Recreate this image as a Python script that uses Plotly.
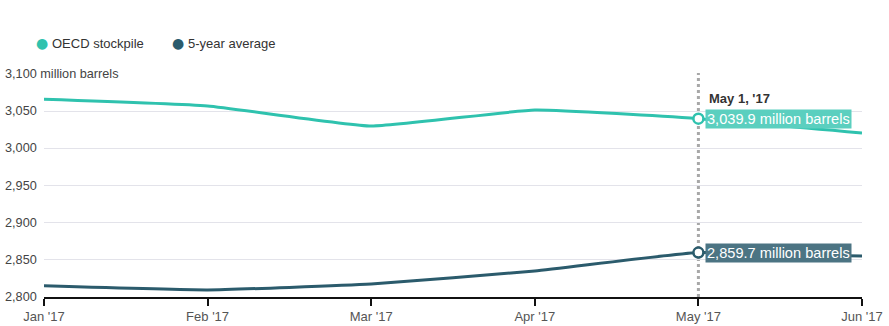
import plotly.graph_objects as go

# Monthly OECD commercial oil stocks vs. their five-year average (million barrels)
month_labels = ["Jan '17", "Feb '17", "Mar '17", "Apr '17", "May '17", "Jun '17"]
oecd_stockpile = [3066, 3057, 3030, 3051.5, 3039.9, 3020.5]
five_year_avg = [2815, 2809.5, 2817.5, 2835, 2859.7, 2855]

y_ticks = [2800, 2850, 2900, 2950, 3000, 3050, 3100]
y_tick_text = ["2,800", "2,850", "2,900", "2,950", "3,000", "3,050", "3,100 million barrels"]

series_names = ["OECD stockpile", "5-year average"]

highlight_idx = 4
highlight_title = "May 1, '17"

TEAL = "#2fc2ae"
TEAL_BOX = "#5bcfbf"
NAVY = "#2b5b6c"
NAVY_BOX = "#4c7483"
FONT = "Liberation Sans, Arial, sans-serif"

ML, MR, MT, MB = 44, 27, 74, 29

fig = go.Figure()

for name, vals, col in [(series_names[0], oecd_stockpile, TEAL),
                        (series_names[1], five_year_avg, NAVY)]:
    fig.add_trace(go.Scatter(
        x=month_labels, y=vals, mode="lines", name=name,
        line=dict(color=col, width=3, shape="spline", smoothing=0.4),
        showlegend=False, hoverinfo="skip"))
    # open marker on the highlighted month
    fig.add_trace(go.Scatter(
        x=[month_labels[highlight_idx]], y=[vals[highlight_idx]], mode="markers",
        marker=dict(size=10, color="white", line=dict(color=col, width=2.5)),
        showlegend=False, hoverinfo="skip"))

# dotted crosshair at the highlighted month
fig.add_shape(type="line", xref="x", yref="paper",
              x0=month_labels[highlight_idx], x1=month_labels[highlight_idx], y0=0, y1=1.005,
              line=dict(color="#a8a8a8", width=3, dash="dot"), layer="below")

# y tick labels, left-aligned at the chart edge
for v, t in zip(y_ticks, y_tick_text):
    fig.add_annotation(
        x=0, xref="paper", xshift=3 - ML, xanchor="left", y=v, yref="y", yanchor="middle",
        text=t, showarrow=False, bgcolor="white" if v == 3100 else None,
        font=dict(family=FONT, size=12.7, color="#444"))

# highlighted values
fig.add_annotation(
    x=month_labels[highlight_idx], y=oecd_stockpile[highlight_idx], xref="x", yref="y",
    xanchor="left", yanchor="bottom", xshift=9, yshift=11,
    text="<b>%s</b>" % highlight_title, showarrow=False,
    font=dict(family=FONT, size=13, color="#333"))
for vals, box in [(oecd_stockpile, TEAL_BOX), (five_year_avg, NAVY_BOX)]:
    fig.add_annotation(
        x=month_labels[highlight_idx], y=vals[highlight_idx], xref="x", yref="y",
        xanchor="left", yanchor="middle", xshift=7,
        text="{:,.1f} million barrels".format(vals[highlight_idx]), showarrow=False,
        bgcolor=box, borderpad=1,
        font=dict(family=FONT, size=14.6, color="white"))

# legend row above the plot
for px, label, col in [(40, series_names[0], TEAL), (176, series_names[1], NAVY)]:
    fig.add_annotation(x=0, xref="paper", xshift=px - ML - 6, y=1, yref="paper",
                       yshift=31, xanchor="left", yanchor="middle", text="●",
                       showarrow=False, font=dict(family="DejaVu Sans", size=14, color=col))
    fig.add_annotation(x=0, xref="paper", xshift=px - ML + 10, y=1, yref="paper",
                       yshift=31, xanchor="left", yanchor="middle", text=label,
                       showarrow=False, font=dict(family=FONT, size=13, color="#333"))

fig.update_layout(
    width=889, height=326,
    margin=dict(l=ML, r=MR, t=MT, b=MB),
    paper_bgcolor="white", plot_bgcolor="white",
    showlegend=False,
    font=dict(family=FONT, size=13, color="#444"),
    xaxis=dict(
        type="category", range=[0, len(month_labels) - 1], automargin=False,
        showgrid=False, showline=True, linecolor="#111", linewidth=1.5,
        ticks="outside", ticklen=7, tickcolor="#111", tickwidth=1.5,
        tickfont=dict(family=FONT, size=13, color="#555"), zeroline=False),
    yaxis=dict(
        range=[2800, 3100], tickvals=y_ticks, showticklabels=False, automargin=False,
        showgrid=True, gridcolor="#e3e3ea", gridwidth=1, zeroline=False,
        showline=False, ticks=""),
)

fig.write_html("out.html")
